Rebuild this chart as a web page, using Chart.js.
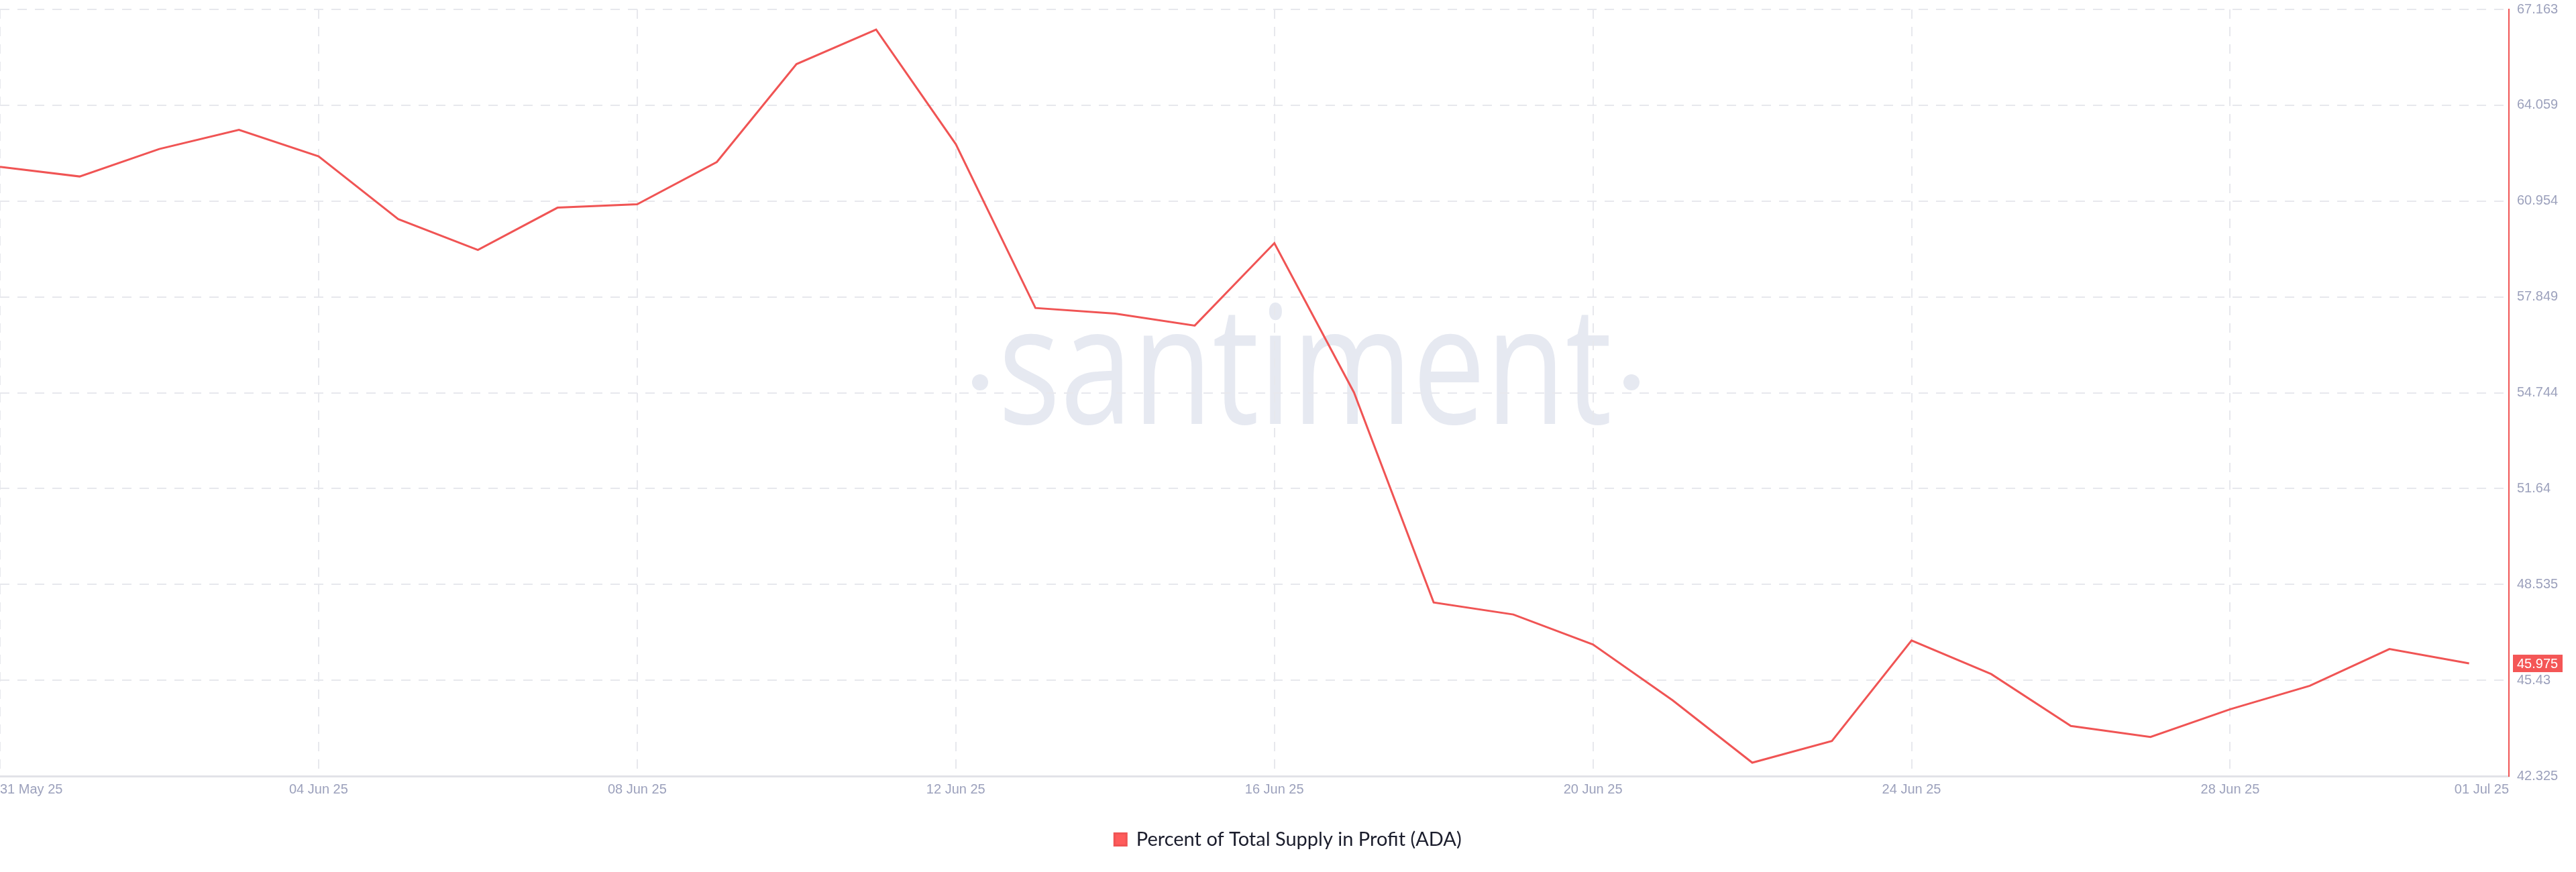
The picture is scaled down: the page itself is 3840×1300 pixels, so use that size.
<!DOCTYPE html>
<html>
<head>
<meta charset="utf-8">
<script src="https://cdn.jsdelivr.net/npm/chart.js@4.4.1/dist/chart.umd.min.js"></script>
<style>
  html, body { margin: 0; padding: 0; background: #fff; }
</style>
</head>
<body>
<canvas id="profitChart" width="3840" height="1300"></canvas>
<script>
// daily points, 31 May 25 -> 01 Jul 25
const days = [
  '31 May 25', '01 Jun 25', '02 Jun 25', '03 Jun 25', '04 Jun 25', '05 Jun 25', '06 Jun 25', '07 Jun 25',
  '08 Jun 25', '09 Jun 25', '10 Jun 25', '11 Jun 25', '12 Jun 25', '13 Jun 25', '14 Jun 25', '15 Jun 25',
  '16 Jun 25', '17 Jun 25', '18 Jun 25', '19 Jun 25', '20 Jun 25', '21 Jun 25', '22 Jun 25', '23 Jun 25',
  '24 Jun 25', '25 Jun 25', '26 Jun 25', '27 Jun 25', '28 Jun 25', '29 Jun 25', '30 Jun 25', '01 Jul 25'
];
const profitPct = [
  62.06, 61.75, 62.64, 63.26, 62.40, 60.37, 59.37, 60.74,
  60.85, 62.22, 65.39, 66.51, 62.80, 57.49, 57.31, 56.92,
  59.59, 54.75, 47.95, 47.56, 46.59, 44.78, 42.76, 43.46,
  46.72, 45.63, 43.95, 43.59, 44.49, 45.25, 46.44, 45.975
];

const xTickPos = [0, 4, 8, 12, 16, 20, 24, 28, 31.5];
const xTickLabels = ['31 May 25', '04 Jun 25', '08 Jun 25', '12 Jun 25', '16 Jun 25', '20 Jun 25', '24 Jun 25', '28 Jun 25', '01 Jul 25'];
const yTickLabels = ['42.325', '45.43', '48.535', '51.64', '54.744', '57.849', '60.954', '64.059', '67.163'];
const yMin = 42.325, yMax = 67.163;
const xMax = 31.5;

const lineRed = '#f05454';
const tickGrey = '#9ca1bc';
const gridGrey = '#e7e8ed';

const points = profitPct.map((v, i) => ({x: i, y: v}));

// faint ·santiment· mark behind the plot
const watermark = {
  id: 'watermark',
  beforeDraw(chart) {
    const ctx = chart.ctx;
    ctx.save();
    ctx.fillStyle = '#e6e9f1';
    ctx.font = '245px "Open Sans"';
    ctx.textBaseline = 'alphabetic';
    ctx.textAlign = 'left';
    const w = ctx.measureText('santiment').width;
    ctx.translate(1488, 632);
    ctx.scale(915 / w, 1);
    ctx.fillText('santiment', 0, 0);
    ctx.restore();
    ctx.save();
    ctx.fillStyle = '#e6e9f1';
    [1461, 2432].forEach(cx => {
      ctx.beginPath();
      ctx.arc(cx, 570, 12, 0, Math.PI * 2);
      ctx.fill();
    });
    ctx.restore();
  }
};

// red badge with the latest value on the right axis
const lastBadge = {
  id: 'lastBadge',
  afterDraw(chart) {
    const ctx = chart.ctx;
    const ys = chart.scales.y;
    const last = profitPct[profitPct.length - 1];
    const y = ys.getPixelForValue(last);
    const x = ys.left + 6;
    ctx.save();
    ctx.fillStyle = '#f45656';
    ctx.fillRect(x, y - 13, 74, 26);
    ctx.fillStyle = '#ffffff';
    ctx.font = '20px "Liberation Sans"';
    ctx.textBaseline = 'middle';
    ctx.textAlign = 'left';
    ctx.fillText(last.toFixed(3), x + 6, y + 1);
    ctx.restore();
  }
};

new Chart(document.getElementById('profitChart'), {
  type: 'line',
  data: {
    datasets: [{
      label: 'Percent of Total Supply in Profit (ADA)',
      data: points,
      borderColor: lineRed,
      backgroundColor: '#ff5b5b',
      borderWidth: 3,
      pointRadius: 0,
      tension: 0
    }]
  },
  options: {
    responsive: false,
    animation: false,
    layout: { padding: { top: 0, left: 0, right: 0, bottom: 24 } },
    plugins: {
      legend: {
        position: 'bottom',
        labels: {
          boxWidth: 18,
          boxHeight: 18,
          padding: 40,
          color: '#1b1d2c',
          font: { family: 'Lato', size: 29 }
        }
      },
      tooltip: { enabled: false }
    },
    scales: {
      x: {
        type: 'linear',
        min: 0,
        max: xMax,
        afterBuildTicks: s => { s.ticks = xTickPos.map(v => ({value: v})); },
        afterFit: s => { s.paddingLeft = 0; s.paddingRight = 0; },
        ticks: {
          align: 'inner',
          padding: 8,
          maxRotation: 0,
          color: tickGrey,
          font: { family: 'Liberation Sans', size: 20 },
          callback: (v, i) => xTickLabels[i]
        },
        grid: { color: gridGrey, lineWidth: 2, drawTicks: false },
        border: { display: true, color: '#e2e3e8', width: 3, dash: [14, 12] }
      },
      y: {
        position: 'right',
        min: yMin,
        max: yMax,
        afterBuildTicks: s => {
          s.ticks = yTickLabels.map((_, i) => ({value: yMin + i * (yMax - yMin) / (yTickLabels.length - 1)}));
        },
        afterFit: s => { s.width = 100; s.paddingTop = 14; s.paddingBottom = 0; },
        ticks: {
          padding: 12,
          color: tickGrey,
          font: { family: 'Liberation Sans', size: 20 },
          callback: (v, i) => yTickLabels[i]
        },
        grid: { color: gridGrey, lineWidth: 2, drawTicks: false },
        border: { display: true, color: lineRed, width: 2, dash: [14, 12] }
      }
    }
  },
  plugins: [watermark, lastBadge]
});
</script>
</body>
</html>
